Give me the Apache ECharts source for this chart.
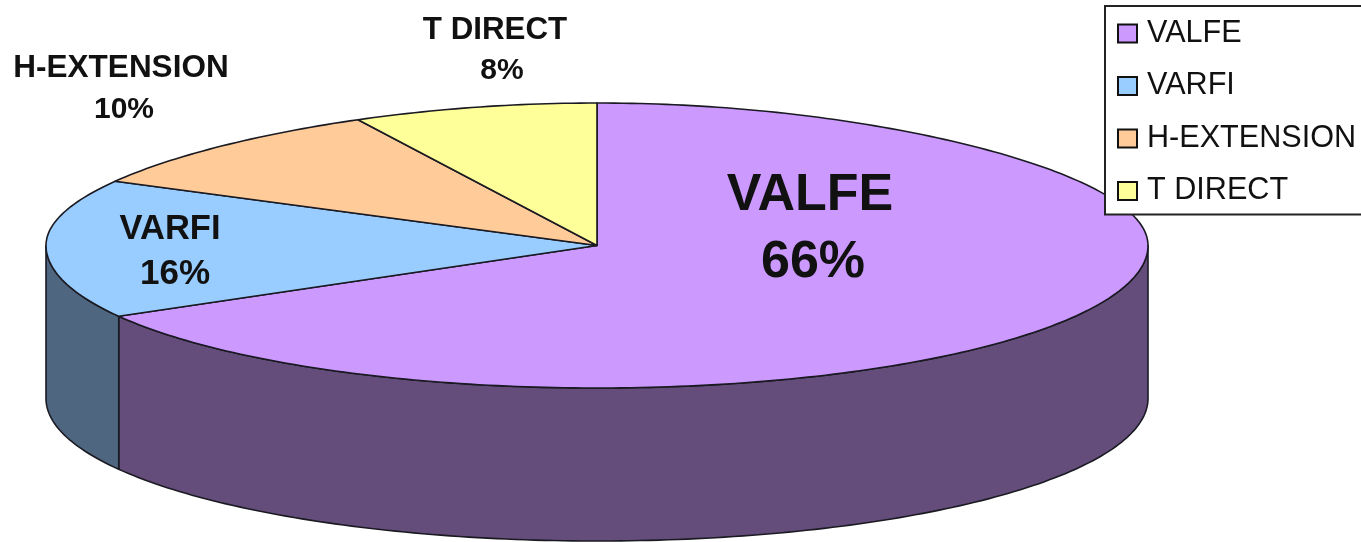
<!DOCTYPE html>
<html>
<head>
<meta charset="utf-8">
<style>
html,body{margin:0;padding:0;background:#fff;overflow:hidden}
#chart{width:1361px;height:542px}
</style>
<script src="https://cdn.jsdelivr.net/npm/echarts@6/dist/echarts.min.js"></script>
</head>
<body>
<div id="chart"></div>
<script>
// Data
const categories = ['VALFE', 'VARFI', 'H-EXTENSION', 'T DIRECT'];
const shares = [66, 16, 10, 8];

// Styling
const topColors = ['#cc99ff', '#99ccff', '#ffcc99', '#ffff99'];
const sideColors = ['#654d7b', '#4f6680', '#806650', '#80804d'];

// Layout of the tilted disc
const disc = { cx: 597, cy: 245.5, rx: 551, ry: 142.5, depth: 153, viewSkew: 3, backNarrow: 0.1 };

// Label placement: name centre, percent centre, font sizes
const labelPlaces = [
  { nx: 810, ny: 196, px: 813, py: 263, nameSize: 52, pctSize: 52 },
  { nx: 170, ny: 229, px: 175, py: 274, nameSize: 34.5, pctSize: 35 },
  { nx: 121, ny: 68, px: 124, py: 110, nameSize: 31.5, pctSize: 30 },
  { nx: 495, ny: 30, px: 502, py: 71, nameSize: 31.3, pctSize: 30 }
];

const total = shares.reduce((a, b) => a + b, 0);
// data share -> clockwise degrees from the top, with the slight view distortion of the 3D projection
function shareToDeg(cum) {
  const t = cum / total * 360;
  return t + disc.viewSkew * Math.sin(t / 2 * Math.PI / 180);
}
function rimPoint(deg, dy) {
  const r = deg * Math.PI / 180;
  const c = Math.cos(r);
  // far half of the disc is narrowed by the projection
  const f = c > 0 ? 1 - disc.backNarrow * c * c : 1;
  return [disc.cx + disc.rx * f * Math.sin(r), disc.cy - disc.ry * c + (dy || 0)];
}
function arc(a, b, dy) {
  const n = Math.max(2, Math.ceil(Math.abs(b - a)));
  const pts = [];
  for (let i = 0; i <= n; i++) pts.push(rimPoint(a + (b - a) * i / n, dy));
  return pts;
}

function makeRender(index) {
  return function (params, api) {
    const value = api.value(0);
    let before = 0;
    for (let i = 0; i < index; i++) before += shares[i];
    const a = shareToDeg(before);
    const b = shareToDeg(before + value);
    const children = [];
    // visible outer wall: front half of the rim only
    const wa = Math.max(a, 90), wb = Math.min(b, 270);
    if (wb > wa) {
      const pts = arc(wa, wb, 0).concat(arc(wb, wa, disc.depth));
      children.push({
        type: 'polygon', z2: 1,
        shape: { points: pts },
        style: { fill: sideColors[index], stroke: '#1a1a22', lineWidth: 1.6, lineJoin: 'round' }
      });
    }
    // top face
    children.push({
      type: 'polygon', z2: 5,
      shape: { points: [[disc.cx, disc.cy]].concat(arc(a, b, 0)) },
      style: { fill: topColors[index], stroke: '#1a1a22', lineWidth: 1.6, lineJoin: 'round' }
    });
    // labels
    const p = labelPlaces[index];
    children.push({
      type: 'text', z2: 10,
      style: { x: p.nx, y: p.ny, text: categories[index], align: 'center', verticalAlign: 'middle',
        fill: '#111', font: 'bold ' + p.nameSize + 'px "Liberation Sans", Arial, sans-serif' }
    });
    children.push({
      type: 'text', z2: 10,
      style: { x: p.px, y: p.py, text: value + '%', align: 'center', verticalAlign: 'middle',
        fill: '#111', font: 'bold ' + p.pctSize + 'px "Liberation Sans", Arial, sans-serif' }
    });
    return { type: 'group', children: children };
  };
}

const chart = echarts.init(document.getElementById('chart'), null, { renderer: 'canvas' });
chart.setOption({
  animation: false,
  backgroundColor: '#ffffff',
  legend: {
    data: categories,
    orient: 'vertical',
    left: 1105,
    top: 6,
    padding: [12, 12, 8, 12],
    itemGap: 21.5,
    itemWidth: 19,
    itemHeight: 18,
    icon: 'rect',
    selectedMode: false,
    backgroundColor: '#ffffff',
    borderColor: '#222222',
    borderWidth: 2,
    itemStyle: { borderColor: '#111111', borderWidth: 2 },
    textStyle: { fontFamily: '"Liberation Sans", Arial, sans-serif', fontSize: 30.6, color: '#111111',
      lineHeight: 30, padding: [0, 0, 0, 5] }
  },
  series: categories.map((name, i) => ({
    type: 'custom',
    name: name,
    coordinateSystem: 'none',
    silent: true,
    itemStyle: { color: topColors[i] },
    data: [[shares[i]]],
    renderItem: makeRender(i)
  }))
});
</script>
</body>
</html>
